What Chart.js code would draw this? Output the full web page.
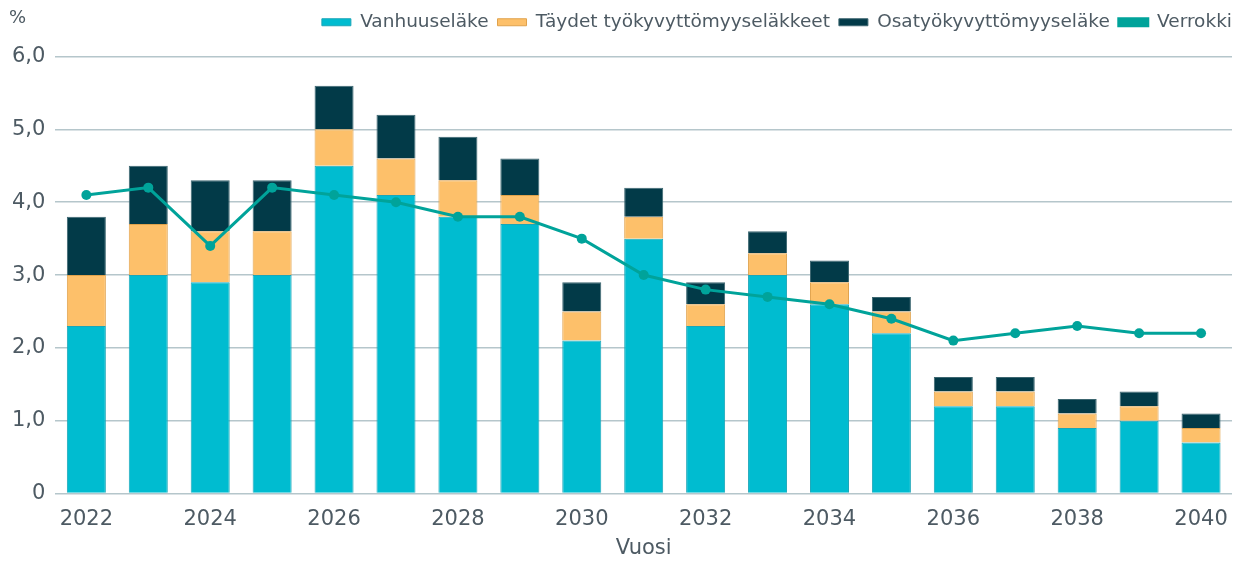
<!DOCTYPE html>
<html>
<head>
<meta charset="utf-8">
<script src="https://cdn.jsdelivr.net/npm/chart.js@4"></script>
<style>
html,body{margin:0;padding:0;background:#fff;}
#wrap{width:1242px;height:561px;position:relative;}
</style>
</head>
<body>
<div id="wrap"><canvas id="c" width="1242" height="561"></canvas></div>
<script>
const years = ['2022','2023','2024','2025','2026','2027','2028','2029','2030','2031','2032','2033','2034','2035','2036','2037','2038','2039','2040'];
const vanhuus = [2.3,3.0,2.9,3.0,4.5,4.1,3.8,3.7,2.1,3.5,2.3,3.0,2.6,2.2,1.2,1.2,0.9,1.0,0.7];
const taydet  = [0.7,0.7,0.7,0.6,0.5,0.5,0.5,0.4,0.4,0.3,0.3,0.3,0.3,0.3,0.2,0.2,0.2,0.2,0.2];
const osa     = [0.8,0.8,0.7,0.7,0.6,0.6,0.6,0.5,0.4,0.4,0.3,0.3,0.3,0.2,0.2,0.2,0.2,0.2,0.2];
const verrokki= [4.1,4.2,3.4,4.2,4.1,4.0,3.8,3.8,3.5,3.0,2.8,2.7,2.6,2.4,2.1,2.2,2.3,2.2,2.2];
const yTicks = [0,1,2,3,4,5,6];

const FONT = "'DejaVu Sans', sans-serif";
const TXT = '#4d5a63';

const pctPlugin = {
  id:'pct',
  afterDraw(chart){
    const ctx = chart.ctx;
    ctx.save();
    ctx.font = "18px " + FONT;
    ctx.fillStyle = TXT;
    ctx.textBaseline = 'middle';
    ctx.fillText('%', 9, 18);
    ctx.restore();
  }
};
const legendGap = {
  id:'legendGap',
  beforeInit(chart){
    const fit = chart.legend.fit;
    chart.legend.fit = function(){ fit.bind(chart.legend)(); this.height += 15; };
  },
  afterLayout(chart){
    chart.legend.right = chart.width - 1;
  }
};

new Chart(document.getElementById('c'), {
  data: {
    labels: years,
    datasets: [
      {type:'bar', label:'Vanhuuseläke', data:vanhuus, backgroundColor:'#00bcd0', borderColor:'#1aa6b8', borderWidth:1, stack:'s', order:1},
      {type:'bar', label:'Täydet työkyvyttömyyseläkkeet', data:taydet, backgroundColor:'#fdc06a', borderColor:'#e0a24c', borderWidth:1, stack:'s', order:1},
      {type:'bar', label:'Osatyökyvyttömyyseläke', data:osa, backgroundColor:'#023a48', borderColor:'#3c6670', borderWidth:1, stack:'s', order:1},
      {type:'line', label:'Verrokki', data:verrokki, borderColor:'#00a39a', backgroundColor:'#00a39a',
       borderWidth:3, pointRadius:5, pointHoverRadius:5, pointBackgroundColor:'#00a39a', pointBorderWidth:0, order:0, tension:0}
    ]
  },
  options: {
    responsive:false,
    animation:false,
    layout:{padding:{left:2,right:10,top:4,bottom:0}},
    datasets:{bar:{categoryPercentage:1.0, barPercentage:0.63}},
    plugins:{
      legend:{
        position:'top', align:'end',
        labels:{boxWidth:29, boxHeight:7, font:{family:FONT,size:18.5}, color:TXT, padding:9,
          sort:(a,b)=>a.datasetIndex-b.datasetIndex}
      },
      tooltip:{enabled:false}
    },
    scales:{
      x:{
        stacked:true,
        grid:{display:false, tickLength:9},
        border:{display:false},
        ticks:{font:{family:FONT,size:21}, color:TXT, maxRotation:0, autoSkip:false, padding:4,
          callback:function(v,i){ return i%2===0 ? years[i] : ''; }},
        title:{display:true, text:'Vuosi', font:{family:FONT,size:21}, color:TXT, padding:{top:0,bottom:0}}
      },
      y:{
        stacked:true,
        min:0, max:6,
        afterBuildTicks(axis){ axis.ticks = yTicks.map(v=>({value:v})); },
        grid:{color:'#b5c6cb', lineWidth:1.5, drawTicks:false},
        border:{display:false},
        ticks:{font:{family:FONT,size:21}, color:TXT, padding:10,
          callback:function(v){ return v===0 ? '0' : v.toFixed(1).replace('.',','); }}
      }
    }
  },
  plugins:[pctPlugin, legendGap]
});
</script>
</body>
</html>
